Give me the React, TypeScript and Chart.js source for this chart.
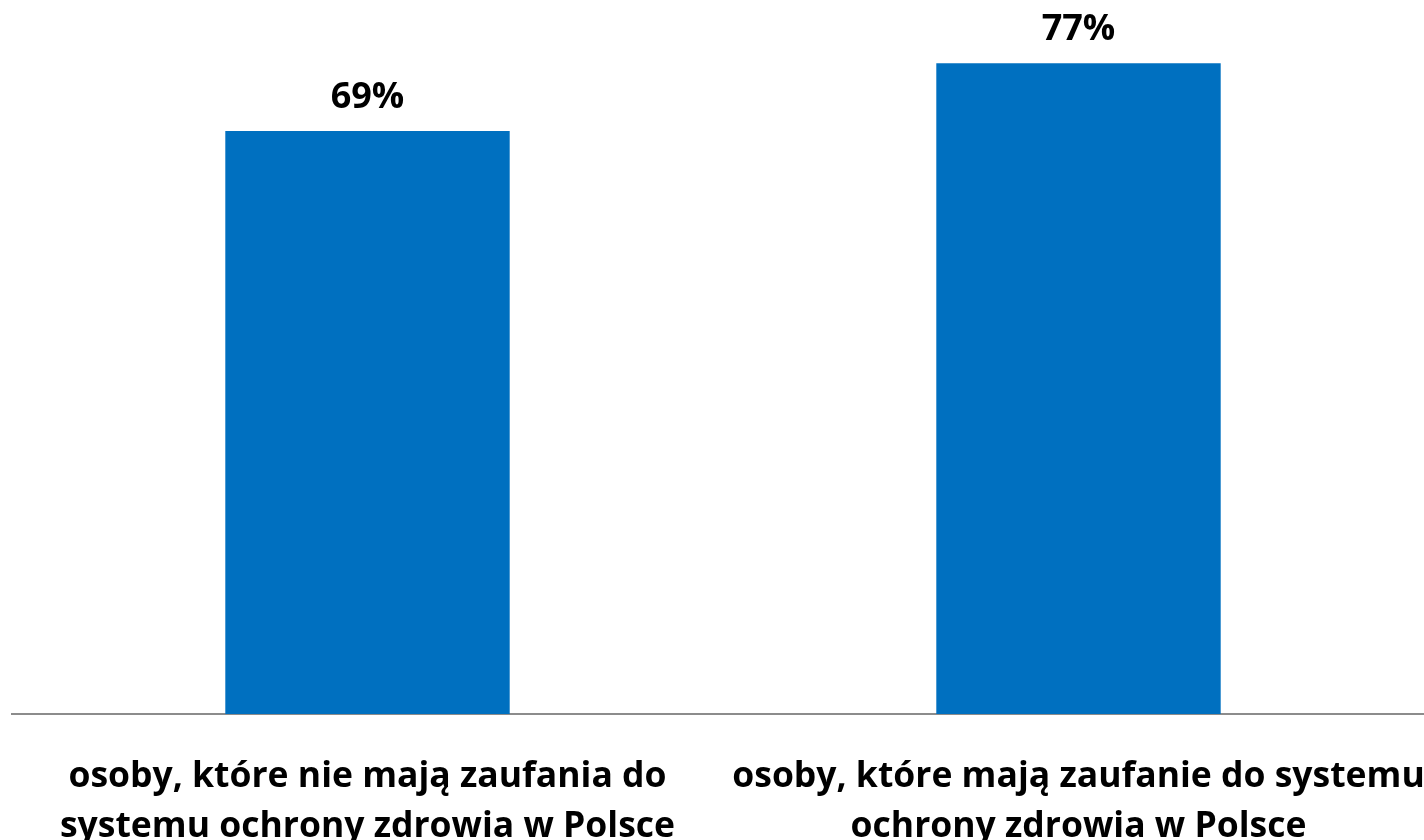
import React, { useEffect, useRef } from "react";
import { Chart, registerables } from "chart.js";

Chart.register(...registerables);

const categories: string[][] = [
  ["osoby, które nie mają zaufania do", "systemu ochrony zdrowia w Polsce"],
  ["osoby, które mają zaufanie do systemu", "ochrony zdrowia w Polsce"],
];
const values: number[] = [69, 77];
const valueLabels: string[] = ["69%", "77%"];

const FONT = "'Open Sans', 'DejaVu Sans', sans-serif";

const valueLabelPlugin = {
  id: "valueLabels",
  afterDatasetsDraw(chart: any) {
    const ctx = chart.ctx;
    const meta = chart.getDatasetMeta(0);
    ctx.save();
    ctx.font = `bold 36px ${FONT}`;
    ctx.fillStyle = "#000000";
    ctx.textAlign = "center";
    ctx.textBaseline = "alphabetic";
    meta.data.forEach((bar: any, i: number) => {
      ctx.fillText(valueLabels[i], bar.x, bar.y - 23);
    });
    ctx.restore();
  },
};

export default function App() {
  const ref = useRef<HTMLCanvasElement>(null);
  useEffect(() => {
    if (!ref.current) return;
    const chart = new Chart(ref.current, {
      type: "bar",
      data: {
        labels: categories,
        datasets: [
          {
            data: values,
            backgroundColor: "#0070C0",
            borderWidth: 0,
            categoryPercentage: 1,
            barPercentage: 0.4,
          },
        ],
      },
      options: {
        responsive: false,
        animation: false,
        devicePixelRatio: 1,
        layout: { padding: { left: 12, right: 6, top: 0, bottom: 0 } },
        plugins: {
          legend: { display: false },
          tooltip: { enabled: false },
          title: { display: false },
        },
        scales: {
          x: {
            grid: { display: false, drawTicks: false },
            border: { display: true, color: "#8c8c8c", width: 2 },
            ticks: {
              color: "#000000",
              font: { family: FONT, size: 35.5, weight: "bold", lineHeight: 1.4 },
              padding: 38,
              maxRotation: 0,
              autoSkip: false,
            },
            afterFit(scale: any) {
              scale.height = 126;
              scale.paddingLeft = 0;
              scale.paddingRight = 0;
            },
          },
          y: {
            display: false,
            min: 0,
            max: 84.5,
          },
        },
      },
      plugins: [valueLabelPlugin],
    });
    return () => chart.destroy();
  }, []);
  return (
    <div
      style={{
        position: "absolute",
        left: 0,
        top: 0,
        width: 1424,
        height: 840,
        overflow: "hidden",
        background: "#ffffff",
      }}
    >
      <canvas ref={ref} width={1440} height={840} style={{ display: "block" }} />
    </div>
  );
}
